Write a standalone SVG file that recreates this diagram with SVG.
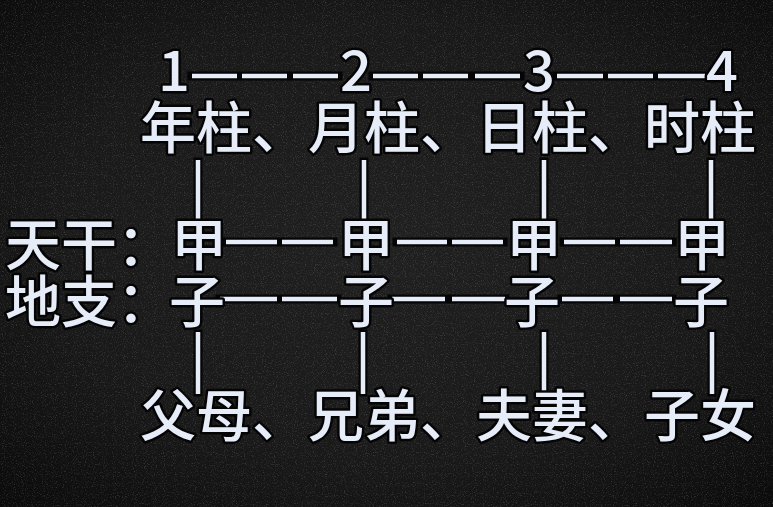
<svg xmlns="http://www.w3.org/2000/svg" width="773" height="507" viewBox="0 0 773 507">
<defs>
<radialGradient id="bg" cx="50%" cy="48%" r="72%">
<stop offset="0" stop-color="#202020"/>
<stop offset="0.6" stop-color="#191919"/>
<stop offset="1" stop-color="#0b0b0b"/>
</radialGradient>
<filter id="noise" x="0" y="0" width="100%" height="100%">
<feTurbulence type="fractalNoise" baseFrequency="0.9" numOctaves="2" seed="3" result="t"/>
<feColorMatrix type="matrix" values="0 0 0 0 0.55  0 0 0 0 0.55  0 0 0 0 0.55  0 0 0 1.6 -0.85"/>
</filter>
<style>
.t{font-family:"Noto Sans CJK SC","Noto Sans CJK JP",sans-serif;font-size:56px;font-weight:500;fill:#e6ecf8;stroke:#050505;stroke-width:5px;stroke-linejoin:round;paint-order:stroke}
.m{text-anchor:middle}
.sh{fill:none;stroke:#050505;stroke-width:9;stroke-linecap:square}
.ln{fill:none;stroke:#e6ecf8;stroke-width:4.5;stroke-linecap:butt}
</style>
</defs>
<rect width="773" height="507" fill="url(#bg)"/>
<rect width="773" height="507" filter="url(#noise)" opacity="0.4"/>

<g id="connectors">
<path class="sh" d="M192 76H237M242 76H287M293 76H338M373 76H418M423 76H468M475 76H520M557 76H603M608 76H653M658 76H705M226 242H277M282 242H333M397 242H447M452 242H503M564 242H615M620 242H672M220 299H277M282 299H337M392 299H445M452 299H505M562 299H613M620 299H672M198 162V218M364 162V218M544 162V218M711 162V218M198 334V392M363 334V392M544 334V392M712 334V392"/>
<path class="ln" d="M192 76H237M242 76H287M293 76H338M373 76H418M423 76H468M475 76H520M557 76H603M608 76H653M658 76H705M226 242H277M282 242H333M397 242H447M452 242H503M564 242H615M620 242H672M220 299H277M282 299H337M392 299H445M452 299H505M562 299H613M620 299H672M198 160V221M364 160V221M544 160V221M711 160V221M198 332V394M363 332V394M544 332V394M712 332V394"/>
</g>

<g id="num1"><text class="t m" x="174" y="91">1</text></g>
<g id="num2"><text class="t m" x="356" y="91">2</text></g>
<g id="num3"><text class="t m" x="539" y="91">3</text></g>
<g id="num4"><text class="t m" x="722" y="91">4</text></g>

<g id="nianzhu"><text class="t" x="140" y="148">年柱、</text></g>
<g id="yuezhu"><text class="t" x="308" y="148">月柱、</text></g>
<g id="rizhu"><text class="t" x="476" y="148">日柱、</text></g>
<g id="shizhu"><text class="t" x="644" y="148">时柱</text></g>

<g id="tiangan"><text class="t" x="5" y="265">天干：</text></g>
<g id="dizhi"><text class="t" x="5" y="322">地支：</text></g>

<g id="jia1"><text class="t m" x="199" y="265">甲</text></g>
<g id="jia2"><text class="t m" x="366" y="265">甲</text></g>
<g id="jia3"><text class="t m" x="534" y="265">甲</text></g>
<g id="jia4"><text class="t m" x="702" y="265">甲</text></g>

<g id="zi1"><text class="t m" x="197" y="322">子</text></g>
<g id="zi2"><text class="t m" x="366" y="322">子</text></g>
<g id="zi3"><text class="t m" x="532" y="322">子</text></g>
<g id="zi4"><text class="t m" x="701" y="322">子</text></g>

<g id="fumu"><text class="t" x="140" y="436">父母、</text></g>
<g id="xiongdi"><text class="t" x="308" y="436">兄弟、</text></g>
<g id="fuqi"><text class="t" x="476" y="436">夫妻、</text></g>
<g id="zinv"><text class="t" x="644" y="436">子女</text></g>
</svg>
